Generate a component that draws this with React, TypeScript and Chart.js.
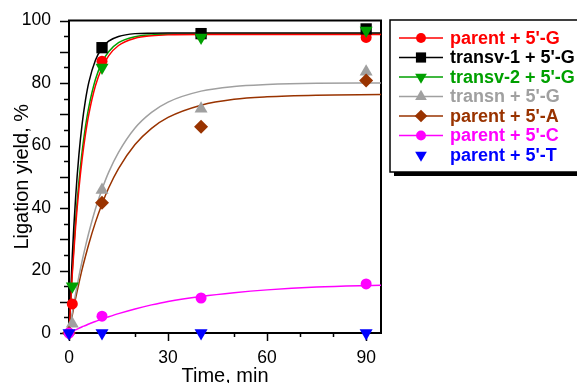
import React, { useEffect, useRef } from "react";
import { Chart, registerables } from "chart.js";

Chart.register(...registerables);

// ---------- data ----------
const seriesNames = [
  "parent + 5'-G",
  "transv-1 + 5'-G",
  "transv-2 + 5'-G",
  "transn + 5'-G",
  "parent + 5'-A",
  "parent + 5'-C",
  "parent + 5'-T",
];

const parentGTimes = [1, 10, 40, 90];
const parentGYield = [9.3, 87, 95.3, 94.6];
const transv1Times = [10, 40, 90];
const transv1Yield = [91.3, 95.8, 97.3];
const transv2Times = [1, 10, 40, 90];
const transv2Yield = [15, 85, 94.6, 96.8];
const transnTimes = [1, 10, 40, 90];
const transnYield = [3, 45.8, 71.8, 83.6];
const parentATimes = [0, 10, 40, 90];
const parentAYield = [0, 41.7, 66, 80.8];
const parentCTimes = [0, 10, 40, 90];
const parentCYield = [0, 5.4, 11.2, 15.7];
const parentTTimes = [0, 10, 40, 90];
const parentTYield = [0, 0, 0, 0];

// fitted curves
const fitTimes = [0, 1, 2, 3, 4, 5, 6, 8, 10, 12, 15, 20, 25, 30, 40, 50, 60, 75, 94.5];
const parentGFit = [0, 18.9, 34, 46.1, 55.9, 63.7, 70, 79.1, 84.9, 88.7, 92, 94.3, 95.1, 95.4, 95.5, 95.5, 95.5, 95.5, 95.5];
const transv1Fit = [0, 24.9, 43.3, 57, 67.1, 74.6, 80.2, 87.3, 91.2, 93.4, 94.9, 95.8, 95.95, 96, 96, 96, 96, 96, 96];
const transv2Fit = [0, 20, 35.9, 48.4, 58.3, 66.1, 72.3, 81.1, 86.6, 90, 92.9, 94.8, 95.4, 95.6, 95.7, 95.7, 95.7, 95.7, 95.7];
const transnFit = [0, 6.6, 12.6, 18.1, 23.2, 27.8, 32.1, 39.7, 46, 51.4, 57.8, 65.6, 70.6, 73.9, 77.4, 78.9, 79.5, 79.9, 80];
const parentAFit = [0, 5.7, 11.1, 15.9, 20.5, 24.6, 28.5, 35.4, 41.3, 46.4, 52.6, 60.3, 65.5, 69, 72.9, 74.8, 75.6, 76.1, 76.3];
const parentCFit = [0, 0.5, 1, 1.5, 2, 2.4, 2.9, 3.7, 4.5, 5.2, 6.2, 7.7, 9, 10.1, 11.7, 12.9, 13.8, 14.7, 15.3];

const xLabelTicks = [0, 30, 60, 90];
const xMinorTicks = [10, 20, 40, 50, 70, 80];
const yLabelTicks = [0, 20, 40, 60, 80, 100];
const yMajorTicks = [0, 10, 20, 30, 40, 50, 60, 70, 80, 90, 100];
const yMinorTicks = [5, 15, 25, 35, 45, 55, 65, 75, 85, 95];

const xTitle = "Time, min";
const yTitle = "Ligation yield, %";

// ---------- styles ----------
const FONT = "'Liberation Sans', Arial, Helvetica, sans-serif";
const styles = [
  { color: "#ff0000", shape: "circle", rot: 0, r: 5.5 },
  { color: "#000000", shape: "rect", rot: 0, r: 8 },
  { color: "#00a000", shape: "triangle", rot: 180, r: 7.5 },
  { color: "#a0a0a0", shape: "triangle", rot: 0, r: 7.5 },
  { color: "#993300", shape: "rectRot", rot: 0, r: 7 },
  { color: "#ff00ff", shape: "circle", rot: 0, r: 5.5 },
  { color: "#0000ff", shape: "triangle", rot: 180, r: 7.5 },
];

const pointSets = [
  [parentGTimes, parentGYield],
  [transv1Times, transv1Yield],
  [transv2Times, transv2Yield],
  [transnTimes, transnYield],
  [parentATimes, parentAYield],
  [parentCTimes, parentCYield],
  [parentTTimes, parentTYield],
];
const fitSets = [parentGFit, transv1Fit, transv2Fit, transnFit, parentAFit, parentCFit, null];

function drawMarker(ctx: CanvasRenderingContext2D, shape: string, rot: number, x: number, y: number, r: number, color: string) {
  ctx.save();
  ctx.fillStyle = color;
  ctx.beginPath();
  if (shape === "circle") {
    ctx.arc(x, y, r, 0, Math.PI * 2);
  } else if (shape === "rect") {
    const s = Math.SQRT1_2 * r;
    ctx.rect(x - s, y - s, 2 * s, 2 * s);
  } else if (shape === "rectRot") {
    ctx.moveTo(x, y - r);
    ctx.lineTo(x + r, y);
    ctx.lineTo(x, y + r);
    ctx.lineTo(x - r, y);
    ctx.closePath();
  } else if (shape === "triangle") {
    let a = (rot * Math.PI) / 180;
    ctx.moveTo(x + Math.sin(a) * r, y - Math.cos(a) * r);
    a += (2 * Math.PI) / 3;
    ctx.lineTo(x + Math.sin(a) * r, y - Math.cos(a) * r);
    a += (2 * Math.PI) / 3;
    ctx.lineTo(x + Math.sin(a) * r, y - Math.cos(a) * r);
    ctx.closePath();
  }
  ctx.fill();
  ctx.restore();
}

const framePlugin = {
  id: "frameAndTicks",
  beforeDatasetsDraw(chart: any) {
    const { ctx, chartArea: a, scales } = chart;
    const xs = scales.x;
    const ys = scales.y;
    ctx.save();
    ctx.strokeStyle = "#000";
    ctx.lineWidth = 1.5;
    ctx.beginPath();
    for (const v of yMajorTicks) {
      const p = Math.round(ys.getPixelForValue(v)) + 0.5;
      ctx.moveTo(a.left - 9, p);
      ctx.lineTo(a.left, p);
    }
    for (const v of yMinorTicks) {
      const p = Math.round(ys.getPixelForValue(v)) + 0.5;
      ctx.moveTo(a.left - 5, p);
      ctx.lineTo(a.left, p);
    }
    for (const v of xLabelTicks) {
      const p = Math.round(xs.getPixelForValue(v)) + 0.5;
      ctx.moveTo(p, a.bottom);
      ctx.lineTo(p, a.bottom + 8);
    }
    for (const v of xMinorTicks) {
      const p = Math.round(xs.getPixelForValue(v)) + 0.5;
      ctx.moveTo(p, a.bottom);
      ctx.lineTo(p, a.bottom + 4);
    }
    ctx.stroke();
    ctx.lineWidth = 2;
    ctx.strokeRect(a.left, a.top, a.right - a.left, a.bottom - a.top);
    ctx.restore();
  },
  afterDraw(chart: any) {
    const { ctx, chartArea: a } = chart;
    ctx.save();
    // axis titles
    ctx.fillStyle = "#000";
    ctx.font = `20px ${FONT}`;
    ctx.textAlign = "center";
    ctx.textBaseline = "alphabetic";
    ctx.fillText(xTitle, (a.left + a.right) / 2, 382);
    ctx.save();
    ctx.translate(28, (a.top + a.bottom) / 2);
    ctx.rotate(-Math.PI / 2);
    ctx.fillText(yTitle, 0, 0);
    ctx.restore();

    // legend box
    const bx = 390, by = 20, bw = 200, bh = 152;
    ctx.fillStyle = "#000";
    ctx.fillRect(bx + 4, by + 4, bw, bh);
    ctx.fillStyle = "#fff";
    ctx.fillRect(bx, by, bw, bh);
    ctx.strokeStyle = "#000";
    ctx.lineWidth = 1.5;
    ctx.strokeRect(bx, by, bw, bh);

    ctx.font = `bold 18px ${FONT}`;
    ctx.textAlign = "left";
    ctx.textBaseline = "middle";
    seriesNames.forEach((name, i) => {
      const st = styles[i];
      const y = 38 + i * 19.5;
      if (fitSets[i]) {
        ctx.strokeStyle = st.color;
        ctx.lineWidth = 1.5;
        ctx.beginPath();
        ctx.moveTo(399, y);
        ctx.lineTo(443, y);
        ctx.stroke();
      }
      drawMarker(ctx, st.shape, st.rot, 421, y, st.r * 0.9, st.color);
      ctx.fillStyle = st.color;
      ctx.fillText(name, 450, y + 1);
    });
    ctx.restore();
  },
};

export default function App() {
  const ref = useRef<HTMLCanvasElement | null>(null);
  useEffect(() => {
    if (!ref.current) return;
    const datasets: any[] = [];
    fitSets.forEach((fit, i) => {
      if (!fit) return;
      datasets.push({
        label: seriesNames[i] + " fit",
        data: fitTimes.map((t, k) => ({ x: t, y: fit[k] })),
        showLine: true,
        borderColor: styles[i].color,
        borderWidth: 1.5,
        pointRadius: 0,
        cubicInterpolationMode: "monotone",
        clip: false,
        order: 50,
      });
    });
    pointSets.forEach(([ts, ys], i) => {
      datasets.push({
        label: seriesNames[i],
        data: ts.map((t, k) => ({ x: t, y: ys[k] })),
        showLine: false,
        pointStyle: styles[i].shape,
        rotation: styles[i].rot,
        pointRadius: styles[i].r,
        backgroundColor: styles[i].color,
        borderColor: styles[i].color,
        borderWidth: 0,
        clip: false,
        order: 10 - i,
      });
    });
    const chart = new Chart(ref.current, {
      type: "scatter",
      data: { datasets },
      options: {
        animation: false,
        responsive: false,
        events: [],
        layout: { padding: { left: 0, top: 20, right: 196, bottom: 0 } },
        plugins: { legend: { display: false }, tooltip: { enabled: false } },
        scales: {
          x: {
            type: "linear",
            min: 0,
            max: 94.5,
            grid: { display: false },
            border: { display: false },
            afterBuildTicks: (s: any) => {
              s.ticks = xLabelTicks.map((v) => ({ value: v }));
            },
            afterFit: (s: any) => {
              s.height = 50;
            },
            ticks: {
              color: "#000",
              font: { family: FONT, size: 17.5 },
              padding: 7,
              maxRotation: 0,
              callback: (v: any) => String(v),
            },
          },
          y: {
            type: "linear",
            min: 0,
            max: 100,
            grid: { display: false },
            border: { display: false },
            afterBuildTicks: (s: any) => {
              s.ticks = yLabelTicks.map((v) => ({ value: v }));
            },
            afterFit: (s: any) => {
              s.width = 69;
            },
            ticks: {
              color: "#000",
              font: { family: FONT, size: 17.5 },
              padding: 10,
              callback: (v: any) => String(v),
            },
          },
        },
      },
      plugins: [framePlugin],
    });
    return () => chart.destroy();
  }, []);
  return (
    <div style={{ position: "absolute", left: 0, top: 0, width: 577, height: 383, background: "#fff" }}>
      <canvas ref={ref} width={577} height={383} />
    </div>
  );
}
